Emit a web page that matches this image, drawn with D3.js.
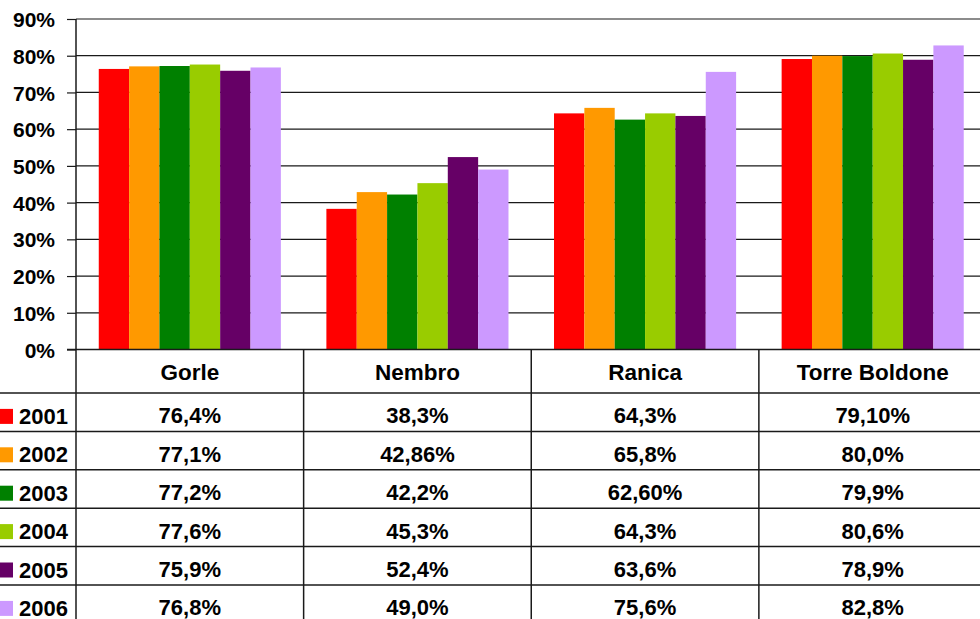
<!DOCTYPE html>
<html>
<head>
<meta charset="utf-8">
<script src="https://cdn.jsdelivr.net/npm/d3@7"></script>
<style>
  html, body { margin: 0; padding: 0; background: #fff; overflow: hidden; }
  svg { display: block; font-family: "Liberation Sans", Arial, sans-serif; font-weight: bold; }
</style>
</head>
<body>
<svg id="chart" width="980" height="619"></svg>
<script>
// Comuni (categorie) e anni (serie)
const categories = ["Gorle", "Nembro", "Ranica", "Torre Boldone"];
const years = ["2001", "2002", "2003", "2004", "2005", "2006"];

// Valori percentuali per anno, nell'ordine dei comuni
const v2001 = [76.4, 38.3, 64.3, 79.1];
const v2002 = [77.1, 42.86, 65.8, 80.0];
const v2003 = [77.2, 42.2, 62.6, 79.9];
const v2004 = [77.6, 45.3, 64.3, 80.6];
const v2005 = [75.9, 52.4, 63.6, 78.9];
const v2006 = [76.8, 49.0, 75.6, 82.8];

// Testo delle celle della tabella dati, come scritto
const t2001 = ["76,4%", "38,3%", "64,3%", "79,10%"];
const t2002 = ["77,1%", "42,86%", "65,8%", "80,0%"];
const t2003 = ["77,2%", "42,2%", "62,60%", "79,9%"];
const t2004 = ["77,6%", "45,3%", "64,3%", "80,6%"];
const t2005 = ["75,9%", "52,4%", "63,6%", "78,9%"];
const t2006 = ["76,8%", "49,0%", "75,6%", "82,8%"];

const yTicks = [0, 10, 20, 30, 40, 50, 60, 70, 80, 90];
const colors = ["#FF0000", "#FF9900", "#008000", "#99CC00", "#660066", "#CC99FF"];

const seriesValues = [v2001, v2002, v2003, v2004, v2005, v2006];
const seriesTexts = [t2001, t2002, t2003, t2004, t2005, t2006];

const W = 980, H = 619;
const plotLeft = 76, plotRight = 986.5, plotTop = 19, plotBottom = 349.5;
const lineCol = "#1a1a1a";

const svg = d3.select("#chart");

const x0 = d3.scaleBand().domain(categories).range([plotLeft, plotRight]).paddingInner(0).paddingOuter(0);
const x1 = d3.scaleBand().domain(years).range([0, x0.bandwidth()]).paddingInner(0).paddingOuter(0.75);
const y = d3.scaleLinear().domain([0, 90]).range([plotBottom, plotTop]);

// Griglia orizzontale
svg.append("g").selectAll("line").data(yTicks.filter(d => d > 0)).join("line")
  .attr("x1", plotLeft).attr("x2", W)
  .attr("y1", d => y(d)).attr("y2", d => y(d))
  .attr("stroke", lineCol).attr("stroke-width", 1.2);

// Barre
const groups = svg.append("g").selectAll("g").data(years).join("g")
  .attr("fill", (d, i) => colors[i]);
groups.selectAll("rect").data((yr, i) => categories.map((c, j) => ({ c, yr, v: seriesValues[i][j] })))
  .join("rect")
  .attr("x", d => x0(d.c) + x1(d.yr))
  .attr("width", x1.bandwidth())
  .attr("y", d => y(d.v))
  .attr("height", d => y(0) - y(d.v));

// Asse Y
const yAxis = d3.axisLeft(y).tickValues(yTicks).tickSize(9).tickPadding(12).tickFormat(d => d + "%");
const ga = svg.append("g").attr("transform", `translate(${plotLeft},0)`).call(yAxis);
ga.select(".domain").remove();
ga.selectAll(".tick line").attr("stroke", lineCol).attr("stroke-width", 1.2);
ga.selectAll(".tick text")
  .attr("font-family", "Liberation Sans, Arial, sans-serif")
  .attr("font-weight", "bold").attr("font-size", 21).attr("fill", "#000")
  .attr("dy", "0.36em");

// Tabella dati
const rowY = d3.scaleBand().domain(years).range([393, 623.4]);
const tbl = svg.append("g");

// linea dello zero / bordo superiore tabella
tbl.append("line").attr("x1", plotLeft - 9).attr("x2", W)
  .attr("y1", y(0)).attr("y2", y(0)).attr("stroke", lineCol).attr("stroke-width", 1.5);

// linee orizzontali delle righe
tbl.selectAll("line.row").data(years).join("line").attr("class", "row")
  .attr("x1", 0).attr("x2", W)
  .attr("y1", d => rowY(d)).attr("y2", d => rowY(d))
  .attr("stroke", lineCol).attr("stroke-width", 1.5);

// linee verticali (asse e separatori di colonna)
tbl.append("line").attr("x1", plotLeft).attr("x2", plotLeft)
  .attr("y1", plotTop).attr("y2", H).attr("stroke", lineCol).attr("stroke-width", 1.5);
tbl.selectAll("line.col").data(categories.slice(1)).join("line").attr("class", "col")
  .attr("x1", d => x0(d)).attr("x2", d => x0(d))
  .attr("y1", plotBottom).attr("y2", H).attr("stroke", lineCol).attr("stroke-width", 1.5);

// intestazioni dei comuni
tbl.selectAll("text.head").data(categories).join("text").attr("class", "head")
  .attr("x", d => x0(d) + x0.bandwidth() / 2)
  .attr("y", 379.5)
  .attr("text-anchor", "middle").attr("font-size", 22.5).attr("fill", "#000")
  .text(d => d);

// legenda: quadratini colorati e anni
const legend = tbl.selectAll("g.leg").data(years).join("g").attr("class", "leg");
legend.append("rect")
  .attr("x", -2).attr("width", 15)
  .attr("y", d => rowY(d) + rowY.bandwidth() - 22.5).attr("height", 15)
  .attr("fill", (d, i) => colors[i]);
legend.append("text")
  .attr("x", 19)
  .attr("y", d => rowY(d) + rowY.bandwidth() - 7.5)
  .attr("font-size", 22).attr("fill", "#000")
  .text(d => d);

// valori
years.forEach((yr, i) => {
  tbl.append("g").selectAll("text").data(categories).join("text")
    .attr("x", c => x0(c) + x0.bandwidth() / 2)
    .attr("y", rowY(yr) + rowY.bandwidth() - 8)
    .attr("text-anchor", "middle").attr("font-size", 22).attr("fill", "#000")
    .text((c, j) => seriesTexts[i][j]);
});
</script>
</body>
</html>
